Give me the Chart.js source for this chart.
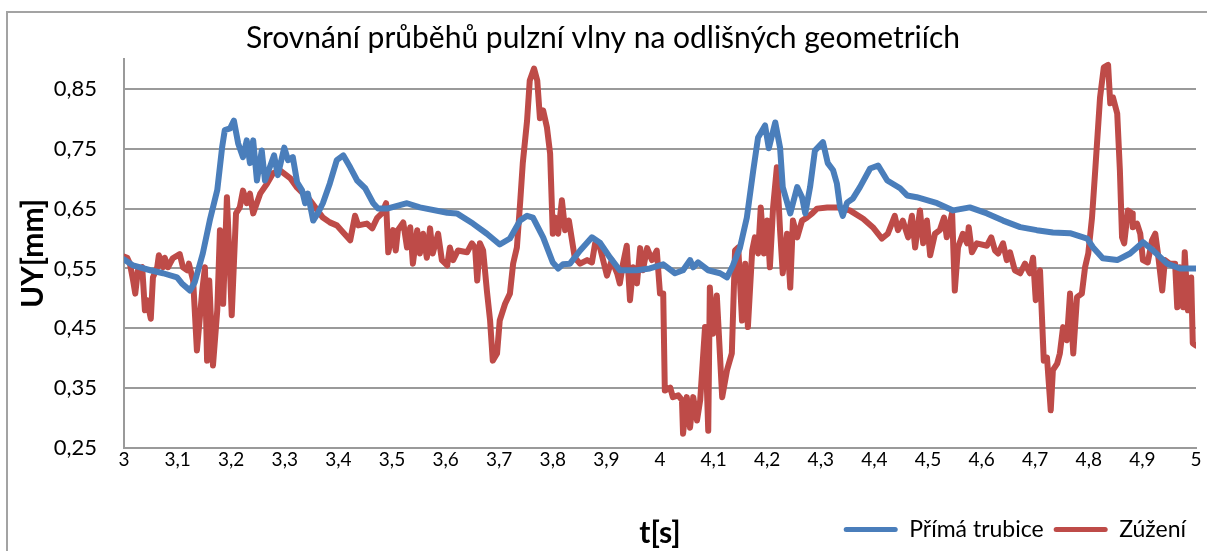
<!DOCTYPE html>
<html lang="cs">
<head>
<meta charset="utf-8">
<title>Srovnání průběhů pulzní vlny</title>
<script src="https://cdn.jsdelivr.net/npm/chart.js@4/dist/chart.umd.min.js"></script>
<style>
  html, body { margin: 0; padding: 0; background: #ffffff; overflow: hidden; }
  #wrap { position: relative; width: 1207px; height: 551px; }
  #frame { position: absolute; left: 6px; top: 11px; width: 1240px; height: 600px;
           border-left: 2px solid #a3a3a3; border-top: 2px solid #a3a3a3; box-sizing: border-box; }
  canvas { position: absolute; left: 0; top: 0; }
</style>
</head>
<body>
<div id="wrap">
  <div id="frame"></div>
  <canvas id="chart" width="1207" height="551"></canvas>
</div>
<script>
// Series names
const seriesNames = ['Přímá trubice', 'Zúžení'];

// Tick values of both axes
const xTickValues = [3, 3.1, 3.2, 3.3, 3.4, 3.5, 3.6, 3.7, 3.8, 3.9, 4, 4.1, 4.2, 4.3, 4.4, 4.5, 4.6, 4.7, 4.8, 4.9, 5];
const yTickValues = [0.25, 0.35, 0.45, 0.55, 0.65, 0.75, 0.85];

// Přímá trubice: time [s] and displacement UY [mm]
const timeStraight = [
  3.000,3.017,3.049,3.073,3.099,3.108,3.123,3.132,3.147,3.160,
  3.174,3.183,3.188,3.198,3.205,3.213,3.222,3.229,3.235,3.241,
  3.248,3.257,3.263,3.272,3.280,3.287,3.299,3.306,3.315,3.323,
  3.332,3.338,3.343,3.353,3.362,3.371,3.384,3.397,3.409,3.422,
  3.435,3.450,3.465,3.474,3.491,3.528,3.552,3.603,3.621,3.651,
  3.677,3.701,3.720,3.739,3.752,3.763,3.782,3.800,3.810,3.819,
  3.832,3.851,3.873,3.888,3.907,3.925,3.957,3.981,4.006,4.028,
  4.043,4.056,4.062,4.071,4.090,4.112,4.125,4.136,4.149,4.162,
  4.174,4.183,4.196,4.203,4.215,4.224,4.229,4.243,4.256,4.265,
  4.271,4.280,4.289,4.304,4.313,4.323,4.330,4.336,4.341,4.349,
  4.360,4.373,4.392,4.407,4.424,4.448,4.461,4.479,4.498,4.517,
  4.547,4.578,4.610,4.640,4.672,4.703,4.733,4.765,4.797,4.808,
  4.826,4.853,4.877,4.901,4.920,4.946,4.970,5.000
];
const uyStraight = [
  0.565,0.555,0.547,0.542,0.535,0.525,0.513,0.527,0.575,0.630,
  0.681,0.752,0.781,0.784,0.797,0.759,0.736,0.764,0.726,0.764,
  0.697,0.747,0.697,0.719,0.739,0.706,0.752,0.731,0.736,0.694,
  0.681,0.659,0.675,0.630,0.643,0.659,0.692,0.731,0.739,0.719,
  0.697,0.684,0.659,0.650,0.650,0.659,0.652,0.643,0.642,0.625,
  0.608,0.590,0.600,0.630,0.638,0.635,0.602,0.560,0.550,0.557,
  0.558,0.580,0.602,0.593,0.568,0.547,0.547,0.550,0.557,0.542,
  0.547,0.564,0.552,0.560,0.547,0.542,0.535,0.555,0.584,0.635,
  0.714,0.769,0.789,0.751,0.794,0.752,0.686,0.642,0.686,0.669,
  0.642,0.686,0.747,0.761,0.726,0.714,0.692,0.652,0.638,0.660,
  0.667,0.686,0.717,0.722,0.697,0.684,0.672,0.669,0.664,0.659,
  0.647,0.652,0.642,0.630,0.619,0.614,0.610,0.609,0.600,0.585,
  0.567,0.564,0.575,0.594,0.580,0.558,0.550,0.550
];

// Zúžení: time [s] and displacement UY [mm]
const timeNarrowed = [
  3.000,3.006,3.011,3.017,3.021,3.026,3.034,3.039,3.043,3.050,
  3.054,3.062,3.065,3.073,3.076,3.082,3.091,3.104,3.110,3.118,
  3.121,3.129,3.136,3.146,3.151,3.155,3.159,3.166,3.174,3.179,
  3.185,3.192,3.198,3.201,3.209,3.216,3.222,3.229,3.235,3.241,
  3.254,3.267,3.278,3.291,3.310,3.323,3.347,3.371,3.384,3.397,
  3.409,3.422,3.431,3.437,3.453,3.463,3.472,3.481,3.489,3.493,
  3.502,3.507,3.511,3.521,3.528,3.534,3.539,3.547,3.552,3.558,
  3.565,3.571,3.576,3.586,3.593,3.603,3.608,3.614,3.623,3.640,
  3.649,3.655,3.659,3.664,3.670,3.677,3.683,3.688,3.696,3.701,
  3.711,3.720,3.726,3.733,3.739,3.744,3.752,3.757,3.765,3.771,
  3.776,3.782,3.789,3.795,3.800,3.804,3.810,3.817,3.823,3.830,
  3.841,3.851,3.864,3.873,3.879,3.888,3.901,3.910,3.920,3.925,
  3.931,3.938,3.944,3.950,3.957,3.963,3.968,3.976,3.985,3.994,
  4.000,4.006,4.009,4.019,4.024,4.034,4.041,4.043,4.050,4.056,
  4.062,4.069,4.075,4.084,4.090,4.093,4.099,4.106,4.116,4.125,
  4.134,4.140,4.146,4.153,4.159,4.164,4.172,4.177,4.183,4.188,
  4.194,4.200,4.205,4.211,4.218,4.224,4.229,4.237,4.243,4.248,
  4.256,4.265,4.274,4.284,4.293,4.312,4.330,4.354,4.379,4.397,
  4.414,4.425,4.438,4.444,4.453,4.463,4.470,4.476,4.485,4.491,
  4.498,4.504,4.513,4.522,4.530,4.535,4.545,4.550,4.556,4.565,
  4.573,4.576,4.582,4.591,4.610,4.618,4.625,4.631,4.640,4.647,
  4.653,4.662,4.672,4.681,4.690,4.696,4.701,4.709,4.716,4.722,
  4.729,4.733,4.741,4.746,4.752,4.759,4.765,4.771,4.778,4.787,
  4.793,4.799,4.806,4.812,4.821,4.828,4.836,4.840,4.845,4.853,
  4.858,4.862,4.866,4.873,4.881,4.882,4.890,4.896,4.901,4.910,
  4.918,4.924,4.929,4.937,4.942,4.951,4.961,4.965,4.970,4.976,
  4.979,4.985,4.991,4.994,5.000
];
const uyNarrowed = [
  0.570,0.568,0.558,0.530,0.508,0.547,0.552,0.480,0.497,0.466,
  0.535,0.552,0.572,0.552,0.568,0.552,0.567,0.574,0.552,0.547,
  0.558,0.530,0.413,0.513,0.552,0.396,0.530,0.388,0.480,0.614,
  0.491,0.669,0.542,0.472,0.642,0.652,0.680,0.659,0.675,0.642,
  0.675,0.692,0.709,0.714,0.701,0.685,0.664,0.635,0.627,0.622,
  0.610,0.597,0.638,0.622,0.625,0.617,0.634,0.642,0.659,0.577,
  0.614,0.580,0.614,0.627,0.585,0.619,0.558,0.614,0.575,0.608,
  0.568,0.617,0.575,0.608,0.564,0.555,0.585,0.564,0.580,0.577,
  0.592,0.585,0.530,0.592,0.580,0.513,0.463,0.396,0.408,0.463,
  0.491,0.508,0.558,0.585,0.659,0.726,0.797,0.864,0.884,0.864,
  0.801,0.814,0.786,0.742,0.608,0.635,0.608,0.664,0.614,0.630,
  0.568,0.558,0.564,0.560,0.592,0.585,0.538,0.564,0.542,0.525,
  0.558,0.588,0.497,0.552,0.525,0.584,0.547,0.584,0.564,0.580,
  0.508,0.508,0.346,0.351,0.335,0.338,0.330,0.274,0.335,0.284,
  0.335,0.296,0.330,0.452,0.279,0.518,0.441,0.505,0.335,0.380,
  0.408,0.580,0.585,0.463,0.558,0.452,0.580,0.602,0.575,0.652,
  0.575,0.630,0.552,0.652,0.719,0.614,0.542,0.608,0.518,0.630,
  0.602,0.630,0.635,0.642,0.650,0.652,0.652,0.647,0.633,0.619,
  0.600,0.608,0.638,0.614,0.630,0.602,0.638,0.585,0.647,0.592,
  0.630,0.572,0.608,0.614,0.635,0.602,0.643,0.513,0.585,0.608,
  0.592,0.619,0.577,0.592,0.588,0.602,0.580,0.575,0.592,0.564,
  0.577,0.547,0.542,0.558,0.542,0.568,0.497,0.547,0.396,0.401,
  0.313,0.380,0.391,0.408,0.452,0.430,0.508,0.408,0.502,0.508,
  0.552,0.575,0.635,0.714,0.836,0.886,0.890,0.826,0.836,0.809,
  0.714,0.602,0.592,0.647,0.642,0.619,0.625,0.608,0.564,0.560,
  0.597,0.608,0.575,0.513,0.564,0.558,0.558,0.485,0.552,0.485,
  0.577,0.480,0.535,0.425,0.421
];

const toPoints = (xs, ys) => xs.map((x, i) => ({ x: x, y: ys[i] }));
const commaNumber = (v, digits) => Number(v).toFixed(digits).replace('.', ',');

const FONT = 'Lato, "Open Sans", sans-serif';
const GRID = '#9a9a9a';

const lineStyle = {
  borderWidth: 6,
  pointRadius: 0,
  pointHoverRadius: 0,
  tension: 0,
  borderJoinStyle: 'round',
  borderCapStyle: 'round',
  fill: false
};

new Chart(document.getElementById('chart'), {
  type: 'line',
  data: {
    datasets: [
      Object.assign({
        label: seriesNames[0],
        data: toPoints(timeStraight, uyStraight),
        borderColor: '#4A7EBB',
        backgroundColor: '#4A7EBB'
      }, lineStyle),
      Object.assign({
        label: seriesNames[1],
        data: toPoints(timeNarrowed, uyNarrowed),
        borderColor: '#BE4B48',
        backgroundColor: '#BE4B48'
      }, lineStyle)
    ]
  },
  options: {
    responsive: false,
    animation: false,
    parsing: false,
    normalized: true,
    layout: { padding: { left: 10, right: 11, top: 0, bottom: 0 } },
    plugins: {
      title: {
        display: true,
        text: 'Srovnání průběhů pulzní vlny na odlišných geometriích',
        color: '#000000',
        font: { family: FONT, size: 30, weight: 'normal', lineHeight: 1.2 },
        padding: { top: 20, bottom: 3 }
      },
      legend: {
        display: true,
        position: 'bottom',
        align: 'end',
        labels: {
          color: '#000000',
          font: { family: FONT, size: 23 },
          boxWidth: 54,
          boxHeight: 5,
          padding: 10,
          useBorderRadius: true,
          borderRadius: 2.5,
          generateLabels: (chart) =>
            Chart.defaults.plugins.legend.labels.generateLabels(chart)
              .map(item => Object.assign(item, { lineWidth: 0 }))
        }
      },
      tooltip: { enabled: false }
    },
    scales: {
      x: {
        type: 'linear',
        min: 3,
        max: 5,
        afterBuildTicks: (scale) => { scale.ticks = xTickValues.map(v => ({ value: v })); },
        afterFit: (scale) => { scale.height = 60; },
        grid: { display: false, drawTicks: false },
        border: { display: true, color: GRID, width: 2 },
        ticks: {
          color: '#000000',
          font: { family: FONT, size: 19 },
          padding: 0,
          maxRotation: 0,
          autoSkip: false,
          callback: (v) => commaNumber(v, Number.isInteger(v) ? 0 : 1)
        },
        title: {
          display: true,
          text: 't[s]',
          color: '#000000',
          font: { family: FONT, size: 30, weight: 'bold', lineHeight: 1.2 },
          padding: { top: 0, bottom: -43 }
        }
      },
      y: {
        type: 'linear',
        min: 0.25,
        max: 0.9,
        afterBuildTicks: (scale) => { scale.ticks = yTickValues.map(v => ({ value: v })); },
        afterFit: (scale) => { scale.width = 114; },
        grid: { display: true, color: GRID, lineWidth: 2, drawTicks: false },
        border: { display: true, color: GRID, width: 2 },
        ticks: {
          color: '#000000',
          font: { family: FONT, size: 22 },
          padding: 27,
          callback: (v) => commaNumber(v, 2)
        },
        title: {
          display: true,
          text: 'UY[mm]',
          color: '#000000',
          font: { family: FONT, size: 30, weight: 'bold', lineHeight: 1.2 },
          padding: { top: 5, bottom: 0 }
        }
      }
    }
  }
});
</script>
</body>
</html>
